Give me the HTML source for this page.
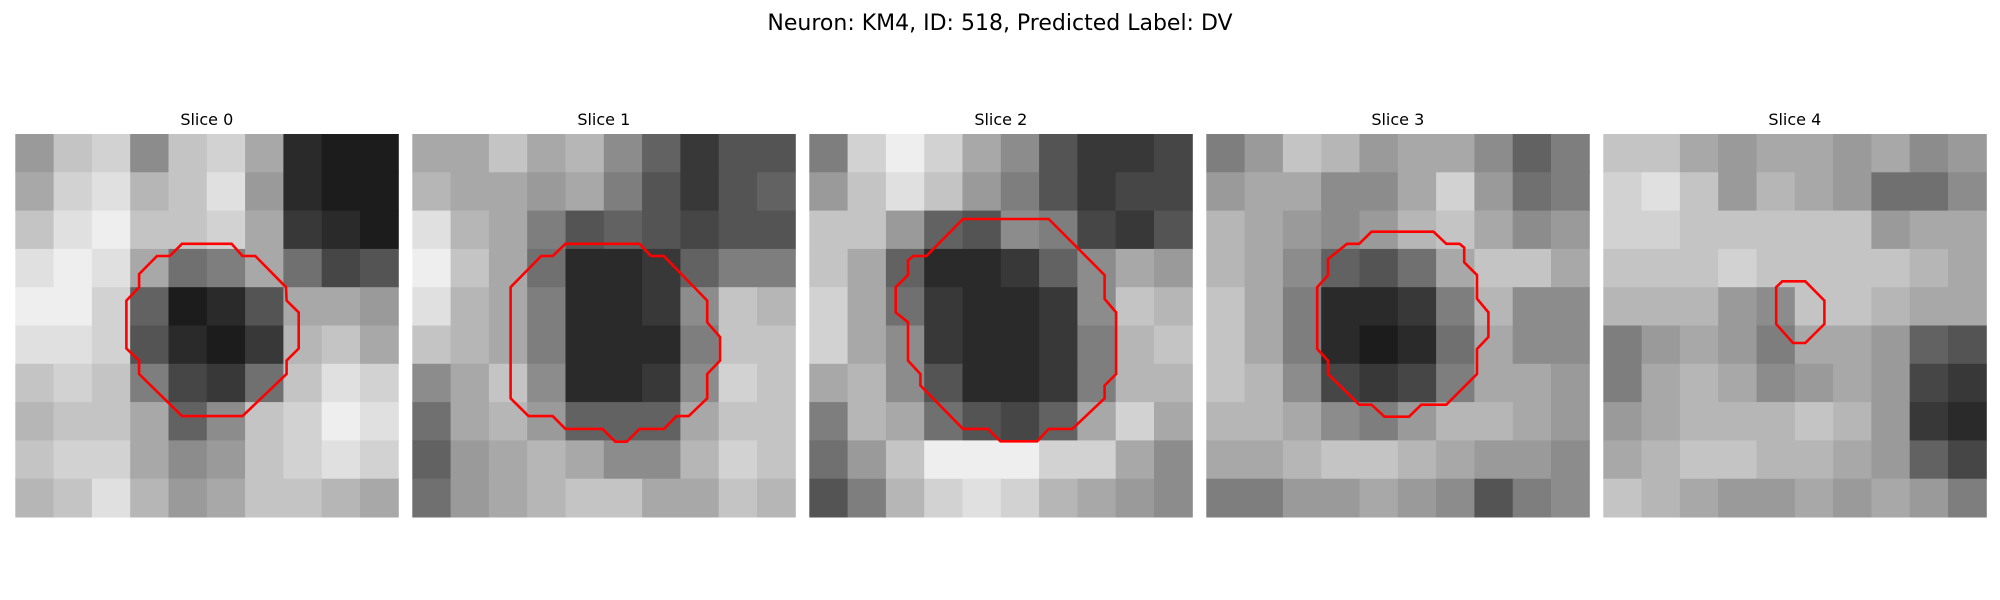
<!DOCTYPE html>
<html><head><meta charset="utf-8"><style>
html,body{margin:0;padding:0;background:#fff;}
svg{display:block;font-family:"DejaVu Sans","Liberation Sans",sans-serif;}
</style></head><body>
<svg id="fig" width="2000" height="600" viewBox="0 0 2000 600">
<text x="1000" y="30" text-anchor="middle" font-size="22" fill="#000">Neuron: KM4, ID: 518, Predicted Label: DV</text>
</svg>
<script>
const sliceTitles = ["Slice 0","Slice 1","Slice 2","Slice 3","Slice 4"];
const grid0 = [
[0.55,0.7,0.75,0.5,0.7,0.75,0.6,0.15,0.1,0.1],
[0.6,0.75,0.8,0.65,0.7,0.8,0.55,0.15,0.1,0.1],
[0.7,0.8,0.85,0.7,0.7,0.75,0.6,0.2,0.15,0.1],
[0.8,0.85,0.8,0.6,0.4,0.45,0.6,0.4,0.25,0.3],
[0.85,0.85,0.75,0.35,0.1,0.15,0.3,0.6,0.6,0.55],
[0.8,0.8,0.75,0.3,0.15,0.1,0.2,0.65,0.7,0.6],
[0.7,0.75,0.7,0.45,0.25,0.2,0.4,0.7,0.8,0.75],
[0.65,0.7,0.7,0.6,0.35,0.5,0.7,0.75,0.85,0.8],
[0.7,0.75,0.75,0.6,0.5,0.55,0.7,0.75,0.8,0.75],
[0.65,0.7,0.8,0.65,0.55,0.6,0.7,0.7,0.65,0.6]];
const grid1 = [
[0.6,0.6,0.7,0.6,0.65,0.5,0.35,0.2,0.3,0.3],
[0.65,0.6,0.6,0.55,0.6,0.45,0.3,0.2,0.3,0.35],
[0.8,0.65,0.6,0.45,0.3,0.35,0.3,0.25,0.3,0.3],
[0.85,0.7,0.6,0.4,0.15,0.15,0.2,0.35,0.45,0.45],
[0.8,0.65,0.6,0.45,0.15,0.15,0.2,0.5,0.7,0.65],
[0.7,0.65,0.6,0.45,0.15,0.15,0.15,0.45,0.7,0.7],
[0.5,0.6,0.7,0.5,0.15,0.15,0.2,0.5,0.75,0.7],
[0.4,0.6,0.65,0.55,0.35,0.35,0.35,0.6,0.7,0.7],
[0.35,0.55,0.6,0.65,0.6,0.5,0.5,0.65,0.75,0.7],
[0.4,0.55,0.6,0.65,0.7,0.7,0.6,0.6,0.7,0.65]];
const grid2 = [
[0.45,0.75,0.85,0.75,0.6,0.5,0.3,0.2,0.2,0.25],
[0.55,0.7,0.8,0.7,0.55,0.45,0.3,0.2,0.25,0.25],
[0.7,0.7,0.55,0.35,0.3,0.5,0.45,0.25,0.2,0.3],
[0.7,0.6,0.35,0.15,0.15,0.2,0.35,0.5,0.6,0.55],
[0.75,0.6,0.4,0.2,0.15,0.15,0.2,0.5,0.7,0.65],
[0.75,0.6,0.5,0.2,0.15,0.15,0.2,0.45,0.65,0.7],
[0.6,0.65,0.5,0.3,0.15,0.15,0.2,0.45,0.65,0.65],
[0.45,0.65,0.6,0.4,0.3,0.25,0.35,0.6,0.75,0.6],
[0.4,0.55,0.7,0.85,0.85,0.85,0.75,0.75,0.6,0.5],
[0.3,0.45,0.65,0.75,0.8,0.75,0.65,0.6,0.55,0.5]];
const grid3 = [
[0.45,0.55,0.7,0.65,0.55,0.6,0.6,0.5,0.35,0.45],
[0.55,0.6,0.6,0.5,0.5,0.6,0.75,0.55,0.4,0.45],
[0.65,0.6,0.55,0.5,0.55,0.65,0.7,0.6,0.5,0.55],
[0.65,0.6,0.5,0.35,0.3,0.4,0.6,0.7,0.7,0.6],
[0.7,0.6,0.45,0.15,0.15,0.2,0.45,0.65,0.5,0.5],
[0.7,0.6,0.45,0.15,0.1,0.15,0.4,0.6,0.5,0.5],
[0.7,0.65,0.5,0.25,0.2,0.25,0.45,0.6,0.6,0.55],
[0.65,0.65,0.6,0.5,0.45,0.55,0.65,0.65,0.6,0.55],
[0.6,0.6,0.65,0.7,0.7,0.65,0.6,0.55,0.55,0.5],
[0.45,0.45,0.55,0.55,0.6,0.55,0.5,0.3,0.45,0.5]];
const grid4 = [
[0.7,0.7,0.6,0.55,0.6,0.6,0.55,0.6,0.5,0.55],
[0.75,0.8,0.7,0.55,0.65,0.6,0.55,0.4,0.4,0.5],
[0.75,0.75,0.7,0.7,0.7,0.7,0.7,0.55,0.6,0.6],
[0.7,0.7,0.7,0.75,0.7,0.7,0.7,0.7,0.65,0.6],
[0.65,0.65,0.65,0.55,0.5,0.7,0.7,0.65,0.6,0.6],
[0.45,0.55,0.6,0.55,0.45,0.6,0.6,0.55,0.35,0.3],
[0.45,0.6,0.65,0.6,0.5,0.55,0.6,0.55,0.25,0.2],
[0.55,0.6,0.65,0.65,0.65,0.7,0.65,0.55,0.2,0.15],
[0.6,0.65,0.7,0.7,0.65,0.65,0.6,0.55,0.35,0.25],
[0.7,0.65,0.6,0.55,0.55,0.6,0.55,0.6,0.55,0.45]];
const contour0 = [[13.06,8.6],[16.94,8.6],[17.8,9.56],[18.8,9.56],[21.2,12.0],[21.25,13.05],[22.2,13.97],[22.2,16.8],[21.25,17.75],[21.25,18.8],[17.8,22.1],[13.06,22.1],[9.7,18.8],[9.7,17.75],[8.7,16.8],[8.7,13.05],[9.7,12.0],[9.7,10.97],[11.1,9.56],[12.1,9.56]];
const contour1 = [[12.0,8.6],[17.8,8.6],[18.7,9.56],[19.7,9.56],[23.1,13.05],[23.1,14.75],[24.1,15.9],[24.1,17.75],[23.1,18.8],[23.1,20.7],[21.65,22.1],[20.7,22.1],[19.7,23.1],[17.8,23.1],[16.8,24.1],[15.9,24.1],[14.9,23.1],[12.0,23.1],[11.0,22.1],[9.1,22.1],[7.7,20.7],[7.7,12.0],[10.1,9.56],[11.0,9.56]];
const contour2 = [[12.04,6.66],[18.75,6.66],[23.13,11.05],[23.13,12.92],[24.03,13.97],[24.03,18.8],[23.13,19.7],[23.13,20.7],[20.6,23.1],[18.75,23.1],[17.85,24.07],[14.98,24.07],[14.0,23.1],[12.04,23.1],[8.7,19.7],[8.7,18.8],[7.73,17.75],[7.73,14.75],[6.77,13.97],[6.77,12.0],[7.73,11.05],[7.73,9.9],[8.15,9.56],[9.17,9.56]];
const contour3 = [[12.94,7.65],[17.8,7.65],[18.8,8.6],[19.83,8.6],[20.2,8.9],[20.2,10.05],[21.2,11.05],[21.2,12.9],[22.1,13.97],[22.1,15.9],[21.2,16.84],[21.2,18.8],[18.8,21.2],[16.84,21.2],[15.88,22.14],[13.96,22.14],[12.94,21.2],[11.98,21.2],[9.53,18.8],[9.53,17.75],[8.69,16.84],[8.69,12.0],[9.53,11.05],[9.53,9.8],[11.02,8.6],[11.98,8.6]];
const contour4 = [[14.02,11.54],[15.82,11.54],[17.32,13.05],[17.32,14.88],[15.82,16.37],[14.86,16.37],[13.54,14.88],[13.54,12.0]];

const grids = [grid0,grid1,grid2,grid3,grid4];
const contours = [contour0,contour1,contour2,contour3,contour4];
const NS = "http://www.w3.org/2000/svg";
const svg = document.getElementById('fig');
const panelX0 = 15.3, panelPitch = 397, panelY = 134, panelSize = 383, imgPx = 30;
function xScale(i, c){ return panelX0 + i*panelPitch + c*panelSize/imgPx; }
function yScale(r){ return panelY + r*panelSize/imgPx; }
function gray(v){ return Math.round(Math.min(1, v*1.1)*255); }

grids.forEach((g, i) => {
  const grp = document.createElementNS(NS,'g');
  
  
  svg.appendChild(grp);
  const n = g.length;
  const cw = panelSize / n;
  g.forEach((row, r) => row.forEach((v, c) => {
    const rect = document.createElementNS(NS,'rect');
    rect.setAttribute('x', (panelX0 + i*panelPitch + c*cw).toFixed(2));
    rect.setAttribute('y', (panelY + r*cw).toFixed(2));
    rect.setAttribute('width', (cw+0.5).toFixed(2));
    rect.setAttribute('height', (cw+0.5).toFixed(2));
    const gv = gray(v);
    rect.setAttribute('fill', `rgb(${gv},${gv},${gv})`);
    
    
    grp.appendChild(rect);
  }));
  const pts = contours[i].map(p => xScale(i,p[0]).toFixed(1) + ',' + yScale(p[1]).toFixed(1)).join(' ');
  const poly = document.createElementNS(NS,'polygon');
  poly.setAttribute('points', pts);
  poly.setAttribute('fill', 'none');
  poly.setAttribute('stroke', '#ff0000');
  poly.setAttribute('stroke-width', '2.6');
  
  
  grp.appendChild(poly);
  const t = document.createElementNS(NS,'text');
  t.setAttribute('x', (panelX0 + i*panelPitch + panelSize/2).toFixed(1));
  t.setAttribute('y', '125');
  t.setAttribute('text-anchor', 'middle');
  t.setAttribute('font-size', '16');
  t.textContent = sliceTitles[i];
  
  
  svg.appendChild(t);
});
</script>
</body></html>
